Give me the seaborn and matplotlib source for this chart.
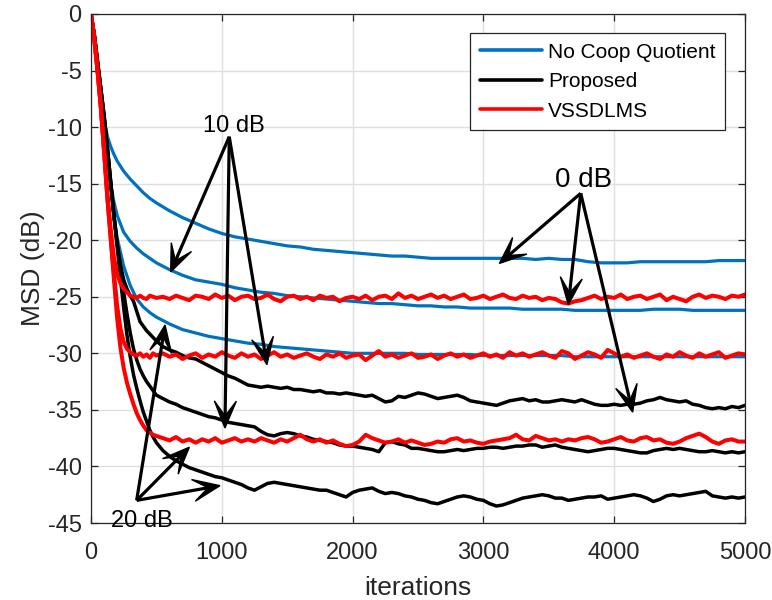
import numpy as np
import pandas as pd
import matplotlib
matplotlib.use("Agg")
import matplotlib.pyplot as plt
from matplotlib.patches import Polygon
import seaborn as sns

# ---------------- data ----------------
it_fast = np.concatenate([np.arange(0, 501, 25), np.arange(550, 5001, 50)])
it_slow = np.concatenate([np.arange(0, 201, 25), np.arange(250, 501, 50), np.arange(600, 5001, 100)])

blue_0dB = [0, -2.0, -4.4, -7.0, -9.3, -10.8, -11.7, -12.4, -13.0,
            -13.9, -14.6, -15.2, -15.8, -16.3, -16.7,
            -17.4, -18.0, -18.5, -19.0, -19.4, -19.7, -19.9, -20.1, -20.3, -20.5,
            -20.6, -20.8, -20.9, -21.0, -21.1, -21.2, -21.3, -21.4, -21.4, -21.5,
            -21.6, -21.6, -21.6, -21.6, -21.6, -21.6, -21.6, -21.6, -21.7, -21.6,
            -21.7, -21.7, -21.9, -22.0, -22.0, -22.0, -21.9, -21.9, -21.9, -21.9,
            -21.9, -21.9, -21.8, -21.8, -21.8]
blue_10dB = [0, -2.0, -4.4, -7.0, -9.6, -12.5, -15.0, -16.6, -17.8,
             -19.3, -20.1, -20.7, -21.2, -21.6, -22.0,
             -22.6, -23.1, -23.5, -23.7, -23.9, -24.2, -24.4, -24.6, -24.7, -24.9,
             -25.0, -25.1, -25.2, -25.3, -25.4, -25.5, -25.6, -25.6, -25.7, -25.8,
             -25.8, -25.9, -25.9, -26.0, -26.0, -26.0, -26.0, -26.1, -26.1, -26.1,
             -26.1, -26.2, -26.2, -26.2, -26.2, -26.2, -26.2, -26.1, -26.1, -26.1,
             -26.2, -26.2, -26.2, -26.2, -26.2]
blue_20dB = [0, -2.0, -4.4, -7.0, -9.6, -12.5, -15.2, -17.8, -19.8,
             -22.3, -24.0, -25.2, -25.9, -26.4, -26.8,
             -27.4, -27.9, -28.2, -28.5, -28.7, -28.9, -29.1, -29.2, -29.4, -29.5,
             -29.6, -29.7, -29.8, -29.9, -30.0, -30.0, -30.0, -30.0, -30.0, -30.1,
             -30.1, -30.1, -30.1, -30.1, -30.2, -30.2, -30.2, -30.2, -30.2, -30.2,
             -30.2, -30.3, -30.3, -30.3, -30.3, -30.3, -30.3, -30.3, -30.3, -30.3,
             -30.3, -30.3, -30.3, -30.3, -30.3]

black_0dB = [0, -1.8, -4.2, -6.6, -9.0, -11.8, -14.8, -17.8, -20.3, -22.2, -23.5,
             -24.3, -24.9, -25.4, -26.3, -27.2, -27.6, -28.0, -28.3, -28.6, -28.9,
             -29.4, -29.7, -29.9, -30.2, -30.4, -30.5, -30.8, -31.1, -31.4, -31.7,
             -32.0, -32.2, -32.5, -32.8, -32.9, -33.0, -32.9, -33.0, -33.1, -33.0,
             -33.2, -33.2, -33.3, -33.4, -33.3, -33.5, -33.5, -33.6, -33.5, -33.6,
             -33.7, -33.8, -33.7, -34.0, -34.3, -34.2, -33.8, -33.9, -33.7, -33.5,
             -33.6, -33.8, -34.0, -33.9, -33.8, -33.7, -33.9, -34.2, -34.3, -34.4,
             -34.5, -34.6, -34.4, -34.2, -34.1, -34.0, -34.2, -34.1, -34.3, -34.3,
             -34.2, -34.1, -34.2, -34.3, -34.1, -34.3, -34.5, -34.6, -34.6, -34.5,
             -34.6, -34.5, -34.5, -34.4, -34.2, -34.1, -33.9, -34.1, -34.2, -34.3,
             -34.2, -34.5, -34.6, -34.8, -34.9, -34.8, -34.9, -34.7, -34.8, -34.6]
black_10dB = [0, -1.8, -4.2, -6.6, -9.0, -11.8, -14.8, -17.8, -20.3, -22.3, -24.6,
              -26.5, -28.2, -29.6, -30.6, -31.4, -32.0, -32.5, -32.9, -33.3, -33.7,
              -34.0, -34.3, -34.5, -34.8, -35.0, -35.2, -35.4, -35.6, -35.7, -35.9,
              -36.1, -36.2, -36.3, -36.4, -36.5, -36.9, -37.2, -37.3, -37.1, -37.0,
              -37.1, -37.3, -37.4, -37.6, -37.7, -37.8, -37.9, -38.1, -38.2, -38.2,
              -38.3, -38.4, -38.5, -38.7, -37.9, -37.8, -38.0, -38.1, -38.4, -38.4,
              -38.5, -38.6, -38.7, -38.7, -38.6, -38.5, -38.6, -38.5, -38.4, -38.4,
              -38.3, -38.3, -38.4, -38.3, -38.2, -38.2, -38.1, -38.1, -38.3, -38.2,
              -38.1, -38.3, -38.4, -38.5, -38.6, -38.7, -38.6, -38.5, -38.4, -38.4,
              -38.5, -38.6, -38.7, -38.8, -38.8, -38.6, -38.5, -38.4, -38.5, -38.4,
              -38.5, -38.6, -38.7, -38.7, -38.6, -38.7, -38.8, -38.7, -38.8, -38.7]
black_20dB = [0, -1.8, -4.2, -6.6, -9.0, -11.8, -14.8, -17.8, -20.6, -23.4, -26.0,
              -28.4, -30.3, -31.9, -33.1, -34.2, -35.2, -36.0, -36.8, -37.4, -37.9,
              -38.6, -39.1, -39.5, -39.8, -40.1, -40.3, -40.5, -40.7, -40.9, -41.0,
              -41.2, -41.4, -41.6, -41.9, -42.1, -41.8, -41.5, -41.4, -41.5, -41.6,
              -41.7, -41.8, -41.9, -42.0, -42.1, -42.1, -42.3, -42.5, -42.7, -42.3,
              -42.1, -42.0, -41.9, -42.2, -42.4, -42.3, -42.4, -42.6, -42.7, -42.9,
              -43.0, -43.2, -43.3, -43.1, -42.9, -42.7, -42.6, -42.7, -42.9, -43.0,
              -43.3, -43.5, -43.4, -43.2, -43.0, -42.8, -42.7, -42.6, -42.5, -42.6,
              -42.8, -42.8, -43.0, -42.9, -42.8, -42.7, -42.7, -42.6, -42.9, -42.8,
              -42.7, -42.6, -42.5, -42.6, -42.8, -43.1, -42.9, -42.6, -42.5, -42.6,
              -42.5, -42.4, -42.3, -42.2, -42.6, -42.7, -42.8, -42.7, -42.8, -42.7]

red_0dB = [0, -2.2, -5.0, -8.2, -12.0, -15.8, -19.0, -21.5, -23.0, -23.8, -24.3,
           -24.6, -24.9, -25.0, -25.1, -24.9, -25.1, -25.2, -24.9, -25.0, -25.1,
           -25.0, -25.2, -24.9, -25.1, -25.3, -24.9, -25.0, -25.2, -24.8, -25.1,
           -24.9, -25.3, -25.0, -24.9, -25.2, -25.1, -24.8, -25.2, -25.4, -25.0,
           -24.9, -25.2, -25.0, -25.3, -24.9, -25.1, -25.0, -25.4, -25.1, -25.0,
           -25.2, -24.9, -25.3, -25.0, -24.9, -25.2, -24.7, -25.1, -24.9, -25.2,
           -25.0, -24.8, -25.1, -24.9, -25.2, -25.0, -24.8, -25.2, -25.1, -24.9,
           -25.2, -25.0, -24.8, -25.1, -25.2, -24.9, -25.1, -25.0, -25.3, -25.1,
           -25.2, -25.5, -25.6, -25.4, -25.3, -25.1, -24.9, -25.2, -25.0, -25.1,
           -24.8, -25.2, -25.0, -24.9, -25.2, -25.0, -24.8, -25.3, -25.0, -25.2,
           -25.4, -25.0, -24.8, -25.1, -24.9, -25.0, -25.2, -24.9, -25.0, -24.8]
red_10dB = [0, -2.2, -5.0, -8.2, -12.1, -16.1, -19.6, -22.9, -25.8, -27.8, -29.0,
            -29.6, -29.9, -30.1, -30.2, -30.0, -30.3, -30.1, -30.4, -30.0, -30.2,
            -30.0, -30.3, -30.1, -30.5, -30.2, -30.0, -30.4, -30.1, -30.3, -29.9,
            -30.2, -30.4, -30.0, -30.3, -30.1, -30.5, -30.2, -29.9, -30.3, -30.1,
            -30.4, -30.2, -30.0, -30.3, -30.5, -30.1, -30.3, -30.0, -30.4, -30.2,
            -30.1, -30.6, -30.2, -29.8, -30.3, -30.1, -30.4, -30.2, -30.0, -30.4,
            -30.3, -30.1, -30.5, -30.2, -30.0, -30.3, -30.1, -30.4, -30.2, -30.0,
            -30.3, -30.1, -30.4, -29.9, -30.2, -30.0, -30.3, -30.1, -29.9, -30.2,
            -30.4, -29.8, -30.0, -30.5, -30.2, -29.9, -30.1, -30.4, -29.7, -30.0,
            -30.3, -30.1, -30.4, -30.2, -30.0, -30.3, -30.5, -30.1, -30.3, -29.9,
            -30.2, -30.4, -30.0, -30.3, -30.1, -29.9, -30.4, -30.2, -30.0, -30.1]
red_20dB = [0, -2.2, -5.0, -8.2, -12.2, -16.3, -19.8, -23.4, -26.9, -29.5, -31.3,
            -32.6, -33.6, -34.5, -35.3, -35.9, -36.4, -36.8, -37.0, -37.2, -37.3,
            -37.5, -37.7, -37.4, -37.8, -37.6, -37.9, -37.6, -37.8, -37.5, -37.9,
            -37.7, -37.5, -37.8, -37.6, -37.8, -37.5, -37.7, -37.9, -37.6, -37.8,
            -37.5, -37.2, -37.6, -37.8, -37.6, -37.9, -37.7, -38.0, -38.2, -38.1,
            -37.8, -37.2, -37.5, -37.7, -37.9, -37.8, -37.6, -37.9, -37.7, -37.9,
            -38.1, -38.0, -37.8, -37.9, -37.6, -37.5, -37.8, -37.7, -37.9, -38.0,
            -37.8, -37.7, -37.6, -37.5, -37.2, -37.6, -37.7, -37.3, -37.5, -37.7,
            -37.6, -37.8, -37.6, -37.7, -37.5, -37.4, -37.6, -37.9, -37.8, -37.6,
            -37.4, -37.7, -37.8, -37.5, -37.4, -37.7, -37.6, -37.9, -38.0, -37.8,
            -37.5, -37.3, -37.1, -37.4, -37.8, -38.0, -37.7, -37.6, -37.8, -37.8]

series_names = ["No Coop Quotient", "Proposed", "VSSDLMS"]
series_colors = ["#0072BD", "#000000", "#FF0000"]

x_ticks = [0, 1000, 2000, 3000, 4000, 5000]
y_ticks = [0, -5, -10, -15, -20, -25, -30, -35, -40, -45]

# annotations: label, label position, arrow origin, arrow targets
ann_10 = ("10 dB", (1093, -10.43), (1057, -10.85), [(609, -22.8), (1024, -36.6), (1345, -31.0)])
ann_0 = ("0 dB", (3765, -15.3), (3744, -15.85), [(3122, -22.05), (3649, -25.7), (4141, -35.2)])
ann_20 = ("20 dB", (386, -45.36), (349, -43.0), [(566, -27.5), (752, -38.3), (986, -41.7)])

# ---------------- style ----------------
sns.set_style("white")
plt.rcParams['font.family'] = ['Liberation Sans', 'DejaVu Sans']
plt.rcParams['axes.unicode_minus'] = False

fig = plt.figure(figsize=(7.72, 6.0), dpi=100)
ax = fig.add_axes([91 / 772, 1 - 523 / 600, 654 / 772, 509 / 600])

groups = [
    (series_names[0], series_colors[0], it_slow, [blue_0dB, blue_10dB, blue_20dB], 2.3),
    (series_names[1], series_colors[1], it_fast, [black_0dB, black_10dB, black_20dB], 2.5),
    (series_names[2], series_colors[2], it_fast, [red_0dB, red_10dB, red_20dB], 2.9),
]
for name, col, xs, curves, lw in groups:
    for k, ys in enumerate(curves):
        df = pd.DataFrame({"iterations": xs, "MSD": ys})
        sns.lineplot(data=df, x="iterations", y="MSD", color=col, linewidth=lw,
                     ax=ax, label=name if k == 0 else None, legend=False)

ax.set_xlim(0, 5000)
ax.set_ylim(-45, 0)
ax.set_xticks(x_ticks)
ax.set_yticks(y_ticks)
ax.set_xticklabels([str(v) for v in x_ticks])
ax.set_yticklabels([str(v) for v in y_ticks])
ax.grid(True, color="#dfdfdf", linewidth=1.0)
ax.set_axisbelow(True)

dark = "#262626"
for s in ax.spines.values():
    s.set_color(dark)
    s.set_linewidth(0.9)
    s.set_visible(True)
ax.tick_params(axis='both', which='major', direction='in', length=4.7, width=0.9,
               color=dark, labelcolor=dark, labelsize=17, top=True, right=True,
               bottom=True, left=True)
ax.tick_params(axis='x', pad=13.5)
ax.tick_params(axis='y', pad=6.7)

ax.set_xlabel("iterations", fontsize=19, color=dark)
ax.set_ylabel("MSD (dB)", fontsize=19, color=dark)
ax.xaxis.set_label_coords(0.5, -0.104)
ax.yaxis.set_label_coords(-0.0703, 0.5)

leg = ax.legend(loc="upper right", bbox_to_anchor=(0.9694, 0.962), borderaxespad=0,
                fontsize=15, handlelength=3.0, handletextpad=0.29, borderpad=0.45,
                labelspacing=0.5, frameon=True, fancybox=False, framealpha=1)
leg.get_frame().set_edgecolor(dark)
leg.get_frame().set_linewidth(0.9)
for t in leg.get_texts():
    t.set_color("#000000")
for h in leg.get_lines():
    h.set_linewidth(2.6)

# ---------------- arrows ----------------
fig.canvas.draw()
inv = ax.transData.inverted()


def draw_arrow(p_from, p_to, L=27.0, W=11.0, N=12.0):
    p0 = ax.transData.transform(p_from)
    p1 = ax.transData.transform(p_to)
    d = p1 - p0
    u = d / np.hypot(*d)
    n = np.array([-u[1], u[0]])
    c1 = p1 - L * u + W * n
    c2 = p1 - L * u - W * n
    notch = p1 - N * u
    shaft = inv.transform(np.array([p0, notch]))
    ax.plot(shaft[:, 0], shaft[:, 1], color="k", lw=2.3, solid_capstyle="butt",
            clip_on=False, zorder=6)
    poly = inv.transform(np.array([p1, c1, notch, c2]))
    ax.add_patch(Polygon(poly, closed=True, facecolor="k", edgecolor="k", lw=1.0,
                         joinstyle="miter", clip_on=False, zorder=6))


for label, lpos, origin, targets, fs in [(*ann_10, 17), (*ann_0, 20), (*ann_20, 17)]:
    ax.text(lpos[0], lpos[1], label, ha="center", va="baseline", fontsize=fs,
            color="k", zorder=7, clip_on=False)
    for tgt in targets:
        draw_arrow(origin, tgt)

fig.savefig("out.png", dpi=100)
